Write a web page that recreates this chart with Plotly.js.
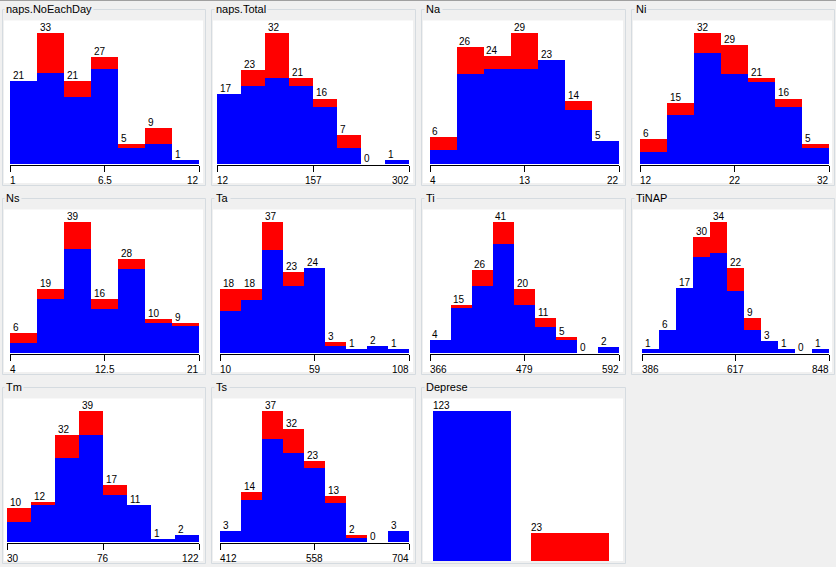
<!DOCTYPE html>
<html>
<head>
<meta charset="utf-8">
<script src="https://cdn.plot.ly/plotly-3.0.1.min.js"></script>
<style>
  html, body { margin: 0; padding: 0; background: #f0f0f0; }
  #chart { width: 836px; height: 567px; }
</style>
</head>
<body>
<div id="chart"></div>
<script>
// ---- Data ----
const panelTitles = ['naps.NoEachDay', 'naps.Total', 'Na', 'Ni', 'Ns', 'Ta', 'Ti', 'TiNAP', 'Tm', 'Ts', 'Deprese'];

const napsNoEachDayBlue = [21, 23, 17, 24, 4, 5, 1];
const napsNoEachDayRed  = [0, 10, 4, 3, 1, 4, 0];
const napsNoEachDayTicks = ['1', '6.5', '12'];

const napsTotalBlue = [17, 19, 21, 19, 14, 4, 0, 1];
const napsTotalRed  = [0, 4, 11, 2, 2, 3, 0, 0];
const napsTotalTicks = ['12', '157', '302'];

const naBlue = [3, 20, 21, 21, 23, 12, 5];
const naRed  = [3, 6, 3, 8, 0, 2, 0];
const naTicks = ['4', '13', '22'];

const niBlue = [3, 12, 27, 22, 20, 14, 4];
const niRed  = [3, 3, 5, 7, 1, 2, 1];
const niTicks = ['12', '22', '32'];

const nsBlue = [3, 16, 31, 13, 25, 9, 8];
const nsRed  = [3, 3, 8, 3, 3, 1, 1];
const nsTicks = ['4', '12.5', '21'];

const taBlue = [12, 15, 29, 19, 24, 2, 1, 2, 1];
const taRed  = [6, 3, 8, 4, 0, 1, 0, 0, 0];
const taTicks = ['10', '59', '108'];

const tiBlue = [4, 14, 21, 34, 15, 8, 4, 0, 2];
const tiRed  = [0, 1, 5, 7, 5, 3, 1, 0, 0];
const tiTicks = ['366', '479', '592'];

const tinapBlue = [1, 6, 17, 25, 26, 16, 6, 3, 1, 0, 1];
const tinapRed  = [0, 0, 0, 5, 8, 6, 3, 0, 0, 0, 0];
const tinapTicks = ['386', '617', '848'];

const tmBlue = [6, 11, 25, 32, 14, 11, 1, 2];
const tmRed  = [4, 1, 7, 7, 3, 0, 0, 0];
const tmTicks = ['30', '76', '122'];

const tsBlue = [3, 12, 29, 25, 21, 11, 1, 0, 3];
const tsRed  = [0, 2, 8, 7, 2, 2, 1, 0, 0];
const tsTicks = ['412', '558', '704'];

const depreseCategories = ['0', '1'];
const depreseCounts = [123, 23];

// ---- Layout helpers ----
const W = 836, H = 567;
const fx = px => px / W;
const fy = px => 1 - px / H;
const BLUE = '#0000ff', RED = '#ff0000';
const FONT = 'Liberation Sans, Arial, sans-serif';

const histPanels = [
  [napsNoEachDayBlue, napsNoEachDayRed, napsNoEachDayTicks],
  [napsTotalBlue, napsTotalRed, napsTotalTicks],
  [naBlue, naRed, naTicks],
  [niBlue, niRed, niTicks],
  [nsBlue, nsRed, nsTicks],
  [taBlue, taRed, taTicks],
  [tiBlue, tiRed, tiTicks],
  [tinapBlue, tinapRed, tinapTicks],
  [tmBlue, tmRed, tmTicks],
  [tsBlue, tsRed, tsTicks]
];

const boxLeft = [2, 211, 421, 631];
const boxRight = [205, 415, 625, 834];
const colRight = [199, 409, 619, 829];
const titleX = [7, 217, 427, 637];
const ROW = 189;

const data = [];
const layout = {
  width: W, height: H,
  margin: {l: 0, r: 0, t: 0, b: 0, pad: 0},
  paper_bgcolor: '#f0f0f0',
  plot_bgcolor: 'rgba(0,0,0,0)',
  barmode: 'stack',
  bargap: 0,
  showlegend: false,
  shapes: [],
  annotations: [],
  font: {family: FONT, size: 10, color: '#000'}
};

// top edge line
layout.shapes.push({type: 'line', xref: 'paper', yref: 'paper', x0: 0, x1: 1, y0: fy(0.5), y1: fy(0.5),
  line: {color: '#a0a0a0', width: 1}, layer: 'below'});

for (let k = 0; k < 11; k++) {
  const row = Math.floor(k / 4), col = k % 4;
  const off = row * ROW;
  const boxTop = 9 + off;
  const whiteTop = 20.5 + off;
  const whiteBottom = (row === 2 ? 561 : 183 + off);
  const boxBottom = whiteBottom + 2;
  // group box
  layout.shapes.push({type: 'rect', xref: 'paper', yref: 'paper', layer: 'below',
    x0: fx(boxLeft[col] + 0.5), x1: fx(boxRight[col] + 0.5), y0: fy(boxTop + 0.5), y1: fy(boxBottom + 0.5),
    line: {color: '#d5dbe0', width: 1}, fillcolor: 'rgba(0,0,0,0)'});
  // white plot area
  layout.shapes.push({type: 'rect', xref: 'paper', yref: 'paper', layer: 'below',
    x0: fx(boxLeft[col] + 2), x1: fx(boxRight[col] - 2), y0: fy(whiteTop), y1: fy(whiteBottom),
    line: {width: 0}, fillcolor: '#ffffff'});
  // title
  layout.annotations.push({xref: 'paper', yref: 'paper', x: fx(titleX[col]), y: fy(9 + off),
    xanchor: 'left', yanchor: 'middle', xshift: -3, showarrow: false, text: panelTitles[k],
    font: {family: FONT, size: 11, color: '#000'}, bgcolor: '#f0f0f0', borderpad: 1});

  const xa = 'xaxis' + (k + 1), ya = 'yaxis' + (k + 1);
  const xr = 'x' + (k + 1), yr = 'y' + (k + 1);

  if (k < 10) {
    const [blue, red, ticks] = histPanels[k];
    const n = blue.length;
    const bw = Math.floor(192 / n);
    const right = colRight[col], left = right - n * bw;
    const lo = parseFloat(ticks[0]), mid = parseFloat(ticks[1]), hi = parseFloat(ticks[2]);
    const w = (hi - lo) / n;
    const centers = blue.map((_, i) => lo + (i + 0.5) * w);
    const totals = blue.map((b, i) => b + red[i]);
    const maxT = Math.max(...totals);

    data.push({type: 'bar', x: centers, y: blue, width: centers.map(() => w), xaxis: xr, yaxis: yr,
      marker: {color: BLUE, line: {width: 0}}, hoverinfo: 'skip'});
    data.push({type: 'bar', x: centers, y: red, width: centers.map(() => w), xaxis: xr, yaxis: yr,
      marker: {color: RED, line: {width: 0}}, hoverinfo: 'skip'});

    layout[xa] = {domain: [fx(left), fx(right)], range: [lo, hi], anchor: yr,
      showline: true, linecolor: '#000', linewidth: 1, ticks: 'outside', ticklen: 6, tickwidth: 1,
      tickcolor: '#000', tickmode: 'array', tickvals: [lo, mid, hi], showticklabels: false,
      showgrid: false, zeroline: false, fixedrange: true};
    layout[ya] = {domain: [fy(165 + off), fy(33 + off)], range: [-maxT / 131, maxT], anchor: xr,
      visible: false, showgrid: false, zeroline: false, fixedrange: true};

    totals.forEach((t, i) => {
      layout.annotations.push({xref: xr, yref: yr, x: lo + i * w, y: t, xanchor: 'left', yanchor: 'bottom',
        xshift: 1.5, yshift: -1, showarrow: false, text: String(t), font: {family: FONT, size: 10, color: '#000'},
        borderpad: 0});
    });
    const anchors = ['left', 'center', 'right'];
    const shifts = [-1, 0, 1];
    [lo, mid, hi].forEach((v, i) => {
      layout.annotations.push({xref: xr, yref: 'paper', x: v, y: fy(180 + off), xanchor: anchors[i],
        yanchor: 'middle', xshift: shifts[i], showarrow: false, text: ticks[i],
        font: {family: FONT, size: 10, color: '#000'}, borderpad: 0});
    });
  } else {
    const bwFrac = 0.806;
    data.push({type: 'bar', x: depreseCategories, y: depreseCounts, width: depreseCategories.map(() => bwFrac),
      xaxis: xr, yaxis: yr, marker: {color: [BLUE, RED], line: {width: 0}}, hoverinfo: 'skip'});
    layout[xa] = {domain: [fx(423), fx(619)], type: 'category', range: [-0.5, 1.5], anchor: yr,
      visible: false, showgrid: false, zeroline: false, fixedrange: true};
    layout[ya] = {domain: [fy(561), fy(411)], range: [0, Math.max(...depreseCounts)], anchor: xr,
      visible: false, showgrid: false, zeroline: false, fixedrange: true};
    depreseCounts.forEach((c, i) => {
      layout.annotations.push({xref: xr, yref: yr, x: i - bwFrac / 2, y: c, xanchor: 'left', yanchor: 'bottom',
        xshift: -0.5, yshift: -1, showarrow: false, text: String(c), font: {family: FONT, size: 10, color: '#000'},
        borderpad: 0});
    });
  }
}

Plotly.newPlot('chart', data, layout, {staticPlot: true, displayModeBar: false});
</script>
</body>
</html>
